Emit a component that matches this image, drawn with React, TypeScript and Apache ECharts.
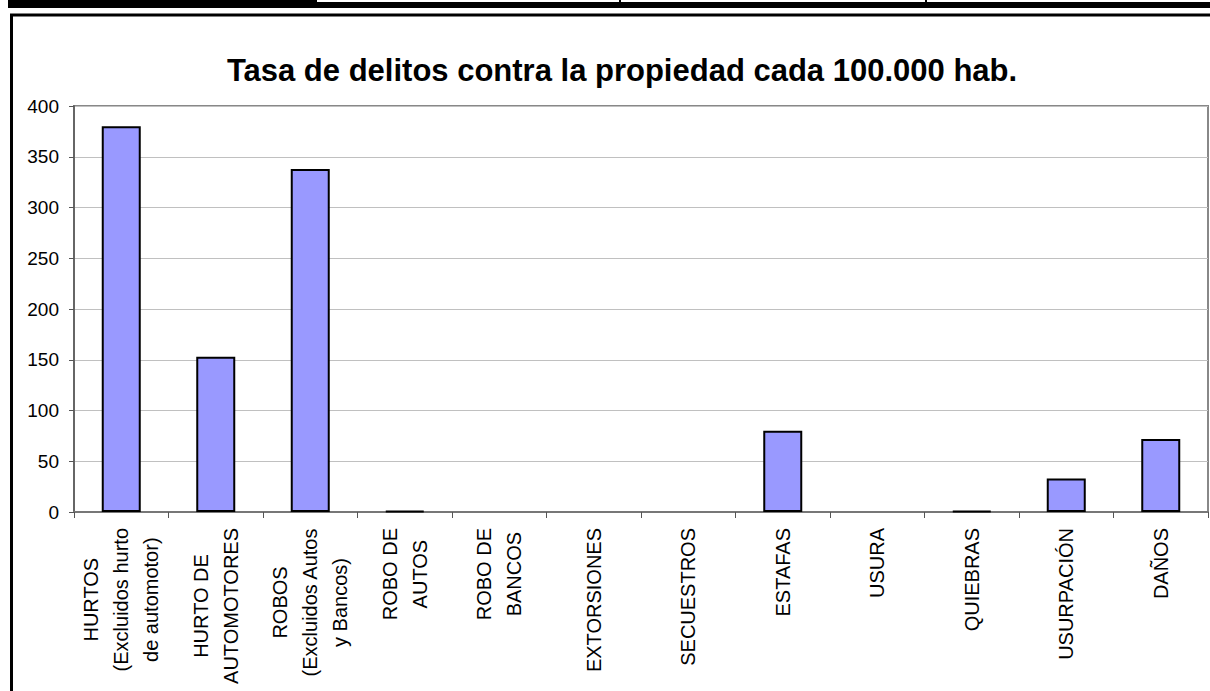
import React, { useEffect, useRef } from "react";
import * as echarts from "echarts";

const TITLE = "Tasa de delitos contra la propiedad cada 100.000 hab.";

const categories = [
  "HURTOS\n(Excluidos hurto\nde automotor)",
  "HURTO DE\nAUTOMOTORES",
  "ROBOS\n(Excluidos Autos\ny Bancos)",
  "ROBO DE\nAUTOS",
  "ROBO DE\nBANCOS",
  "EXTORSIONES",
  "SECUESTROS",
  "ESTAFAS",
  "USURA",
  "QUIEBRAS",
  "USURPACIÓN",
  "DAÑOS",
];

const values = [380, 153, 338, 1, 0, 0, 0, 80, 0, 1, 33, 72];

const yMin = 0;
const yMax = 400;
const yStep = 50;

const FONT = "'Liberation Sans', Arial, Helvetica, sans-serif";

export default function App() {
  const ref = useRef<HTMLDivElement>(null);

  useEffect(() => {
    if (!ref.current) return;
    const chart = echarts.init(ref.current, null, { renderer: "svg" });
    chart.setOption({
      animation: false,
      backgroundColor: "#ffffff",
      title: {
        text: TITLE,
        left: 617,
        top: 50,
        textAlign: "center",
        textStyle: {
          fontFamily: FONT,
          fontWeight: "bold",
          fontSize: 31,
          color: "#000",
        },
      },
      graphic: [
        {
          type: "rect",
          z: -10,
          shape: { x: 11.5, y: 15, width: 1300, height: 800 },
          style: { fill: "none", stroke: "#000", lineWidth: 3 },
        },
        { type: "rect", shape: { x: 8, y: 0, width: 305, height: 8 }, style: { fill: "#000" } },
        { type: "rect", shape: { x: 313, y: 2, width: 900, height: 6 }, style: { fill: "#000" } },
        { type: "rect", shape: { x: 312, y: 0, width: 5, height: 8 }, style: { fill: "#000" } },
        { type: "rect", shape: { x: 619, y: 0, width: 2, height: 4 }, style: { fill: "#000" } },
        { type: "rect", shape: { x: 925, y: 0, width: 2, height: 4 }, style: { fill: "#000" } },
      ],
      grid: {
        left: 74,
        right: 2,
        top: 106,
        bottom: 179,
        show: true,
        borderColor: "#888888",
        borderWidth: 2,
        backgroundColor: "transparent",
      },
      xAxis: {
        type: "category",
        data: categories,
        axisLine: { show: true, lineStyle: { color: "#777777", width: 2 } },
        axisTick: {
          show: true,
          alignWithLabel: false,
          length: 6,
          lineStyle: { color: "#555555", width: 1 },
        },
        axisLabel: {
          interval: 0,
          rotate: 90,
          margin: 16,
          color: "#000",
          fontFamily: FONT,
          fontSize: 20,
          lineHeight: 30,
          formatter: (v: string) =>
            v
              .split("\n")
              .map((l) => `{c|${l}}`)
              .join("\n"),
          rich: {
            c: {
              align: "center",
              fontFamily: FONT,
              fontSize: 20,
              lineHeight: 30,
              color: "#000",
            },
          },
        },
        splitLine: { show: false },
      },
      yAxis: {
        type: "value",
        min: yMin,
        max: yMax,
        interval: yStep,
        axisLine: { show: true, lineStyle: { color: "#666666", width: 2 } },
        axisTick: { show: true, length: 5, lineStyle: { color: "#555555", width: 1 } },
        axisLabel: {
          margin: 15,
          color: "#000",
          fontFamily: FONT,
          fontSize: 19,
        },
        splitLine: { show: true, lineStyle: { color: "#c0c0c0", width: 1 } },
      },
      series: [
        {
          type: "bar",
          data: values.map((v) =>
            v === 0 ? { value: v, itemStyle: { borderWidth: 0 } } : v
          ),
          barWidth: 39,
          itemStyle: {
            color: "#9999ff",
            borderColor: "#000000",
            borderWidth: 2,
          },
        },
      ],
    });
    return () => chart.dispose();
  }, []);

  return (
    <div
      ref={ref}
      style={{ position: "fixed", left: 0, top: 0, width: 1210, height: 691 }}
    />
  );
}
